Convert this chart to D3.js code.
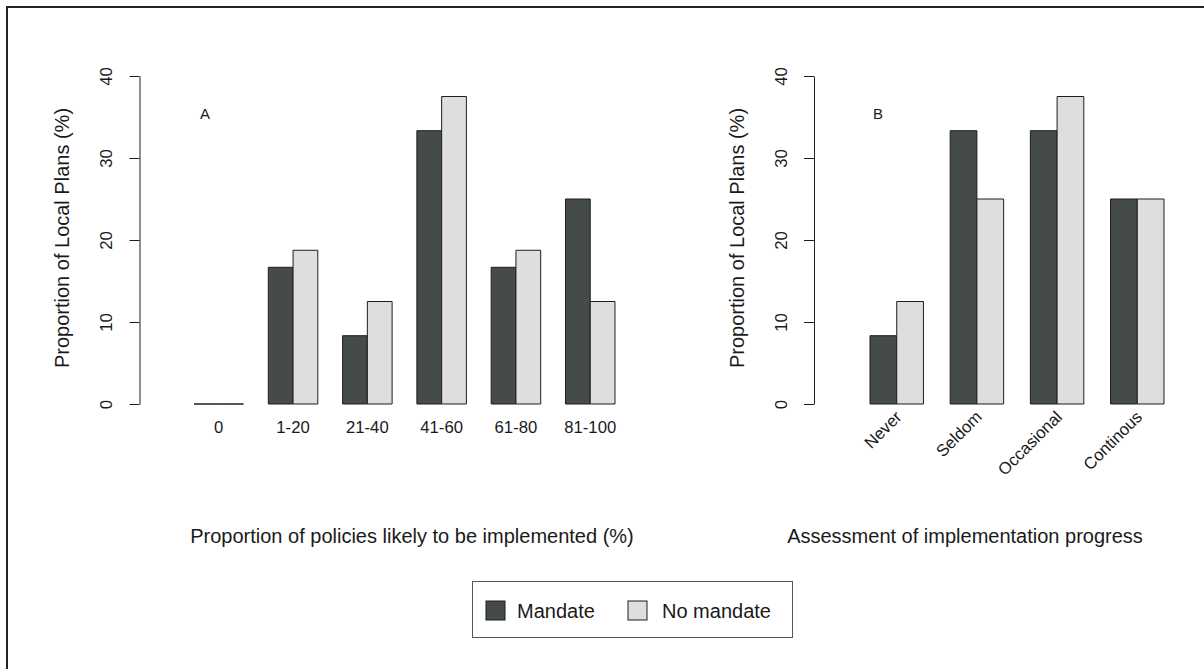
<!DOCTYPE html>
<html>
<head>
<meta charset="utf-8">
<script src="https://cdn.jsdelivr.net/npm/d3@7"></script>
<style>
  body { margin: 0; background: #fff; }
  svg text { font-family: "Liberation Sans", Arial, Helvetica, sans-serif; fill: #1a1a1a; }
</style>
</head>
<body>
<svg id="chart"></svg>
<script>
// data
const seriesNames = ["Mandate", "No mandate"];
const catsA = ["0", "1-20", "21-40", "41-60", "61-80", "81-100"];
const mandateA = [0, 16.67, 8.33, 33.33, 16.67, 25];
const noMandateA = [0, 18.75, 12.5, 37.5, 18.75, 12.5];
const catsB = ["Never", "Seldom", "Occasional", "Continous"];
const mandateB = [8.33, 33.33, 33.33, 25];
const noMandateB = [12.5, 25, 37.5, 25];
const yTicks = [0, 10, 20, 30, 40];

const colors = { "Mandate": "#454a4a", "No mandate": "#dedede" };
const tickFont = "16.7px";
const titleFont = "20px";

const W = 1204, H = 669;
const svg = d3.select("#chart").attr("width", W).attr("height", H);

// outer frame (only top and left edges are visible in the figure)
svg.append("path")
    .attr("d", `M7,${H + 5}V7H${W + 5}`)
    .attr("fill", "none")
    .attr("stroke", "#222")
    .attr("stroke-width", 2);

const y = d3.scaleLinear().domain([0, 40]).range([404, 76]);

function panel(opts) {
    const g = svg.append("g");

    const x0 = d3.scaleBand()
        .domain(opts.cats)
        .range(opts.barRange)
        .paddingInner(1 / 3)
        .paddingOuter(0);
    const x1 = d3.scaleBand()
        .domain(seriesNames)
        .range([0, x0.bandwidth()]);

    const rows = opts.cats.map((c, i) => ({
        cat: c,
        values: [
            { key: "Mandate", value: opts.mandate[i] },
            { key: "No mandate", value: opts.noMandate[i] }
        ]
    }));

    // bars drawn as paths so zero-height bars still show their outline
    g.selectAll(".grp")
        .data(rows)
        .enter()
        .append("g")
        .attr("transform", d => `translate(${x0(d.cat)},0)`)
        .selectAll("path")
        .data(d => d.values)
        .enter()
        .append("path")
        .attr("d", d => {
            const xl = x1(d.key), xr = xl + x1.bandwidth();
            return `M${xl},${y(0)}V${y(d.value)}H${xr}V${y(0)}Z`;
        })
        .attr("fill", d => colors[d.key])
        .attr("stroke", "#1e1e1e")
        .attr("stroke-width", 1);

    // y axis, R style with vertical tick labels
    const ax = g.append("g")
        .attr("transform", `translate(${opts.axisX},0)`)
        .call(d3.axisLeft(y).tickValues(yTicks).tickSize(10).tickSizeOuter(0));
    ax.select(".domain").attr("stroke", "#1e1e1e");
    ax.selectAll(".tick line").attr("stroke", "#1e1e1e");
    ax.selectAll(".tick text")
        .attr("x", null)
        .attr("dy", null)
        .attr("transform", "translate(-27.5,0) rotate(-90)")
        .style("text-anchor", "middle")
        .style("font-size", tickFont)
        .style("font-family", "'Liberation Sans', Arial, sans-serif")
        .style("fill", "#1a1a1a");

    g.append("text")
        .attr("transform", `translate(${opts.axisX - 70.5},238) rotate(-90)`)
        .attr("text-anchor", "middle")
        .style("font-size", titleFont)
        .text("Proportion of Local Plans (%)");

    // category labels
    const lab = g.selectAll(".cat")
        .data(opts.cats)
        .enter()
        .append("text")
        .style("font-size", tickFont)
        .text(d => d);
    if (opts.rotate) {
        lab.attr("text-anchor", "end")
            .attr("transform", d => `translate(${x0(d) + x0.bandwidth() / 2 + 6},418) rotate(-45)`);
    } else {
        lab.attr("text-anchor", "middle")
            .attr("x", d => x0(d) + x0.bandwidth() / 2)
            .attr("y", 433);
    }

    // panel letter
    g.append("text")
        .attr("x", opts.letterX)
        .attr("y", 119)
        .style("font-size", "15px")
        .text(opts.letter);

    // x title
    g.append("text")
        .attr("x", opts.titleX)
        .attr("y", 543)
        .attr("text-anchor", "middle")
        .style("font-size", titleFont)
        .text(opts.title);
}

panel({
    cats: catsA, mandate: mandateA, noMandate: noMandateA,
    axisX: 139.5, barRange: [194, 615], rotate: false,
    letter: "A", letterX: 200,
    title: "Proportion of policies likely to be implemented (%)", titleX: 412
});

panel({
    cats: catsB, mandate: mandateB, noMandate: noMandateB,
    axisX: 814, barRange: [870, 1164], rotate: true,
    letter: "B", letterX: 873,
    title: "Assessment of implementation progress", titleX: 965
});

// legend
const legend = svg.append("g");
legend.append("rect")
    .attr("x", 472.5).attr("y", 581.5)
    .attr("width", 320).attr("height", 56)
    .attr("fill", "#fff")
    .attr("stroke", "#555")
    .attr("stroke-width", 1);

const legX = [486, 628];
const items = legend.selectAll(".item")
    .data(seriesNames)
    .enter()
    .append("g")
    .attr("transform", (d, i) => `translate(${legX[i]},601)`);
items.append("rect")
    .attr("width", 19).attr("height", 19)
    .attr("fill", d => colors[d])
    .attr("stroke", "#1e1e1e")
    .attr("stroke-width", 1);
items.append("text")
    .attr("x", (d, i) => i === 0 ? 31 : 34)
    .attr("y", 17)
    .style("font-size", titleFont)
    .text(d => d);
</script>
</body>
</html>
